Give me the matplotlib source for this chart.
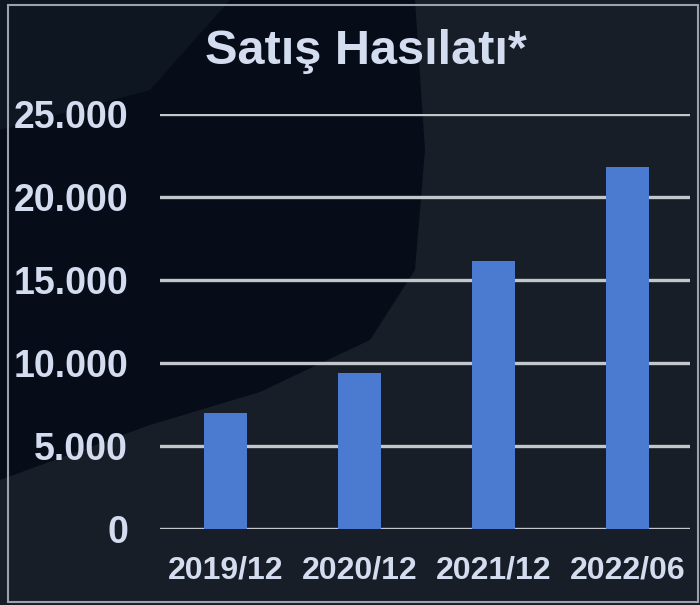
import matplotlib.pyplot as plt
from matplotlib.patches import Rectangle, Polygon
from matplotlib.ticker import FuncFormatter

# ---- data ----
periods = ["2019/12", "2020/12", "2021/12", "2022/06"]
revenue = [7000, 9400, 16150, 21800]
y_ticks = [0, 5000, 10000, 15000, 20000, 25000]

bg = "#060d19"
txt = "#d3ddef"
bar_color = "#4a7bd0"
grid_color = "#c3c7cc"

plt.rcParams["font.family"] = ["Liberation Sans", "DejaVu Sans"]

fig = plt.figure(figsize=(7.0, 6.05), dpi=100, facecolor=bg)

# background decoration, in pixel-like coordinates
bg_ax = fig.add_axes([0, 0, 1, 1], zorder=-10)
bg_ax.set_xlim(0, 700)
bg_ax.set_ylim(605, 0)
bg_ax.axis("off")
bg_ax.add_patch(Polygon([(415, 0), (700, 0), (700, 605), (0, 605), (0, 480), (150, 425),
                         (260, 392), (370, 340), (415, 270), (425, 150)],
                        closed=True, facecolor="#171e27", edgecolor="none"))
bg_ax.add_patch(Polygon([(0, 0), (230, 0), (150, 90), (0, 130)],
                        closed=True, facecolor="#0e1622", edgecolor="none"))
bg_ax.add_patch(Rectangle((8, 5), 690, 597, fill=False, edgecolor="#9aa3ad", linewidth=1.5))

ax = fig.add_axes([160 / 700, 1 - 529 / 605, 530 / 700, 415 / 605])
ax.set_facecolor("none")

x = range(len(periods))
ax.bar(x, revenue, width=0.32, color=bar_color, zorder=3)

ax.set_ylim(0, 25000)
ax.set_xlim(-0.49, 3.465)
ax.set_yticks(y_ticks)
ax.yaxis.set_major_formatter(FuncFormatter(lambda v, p: f"{int(v):,}".replace(",", ".")))
ax.set_xticks(list(x))
ax.set_xticklabels(periods)

for t in y_ticks:
    ax.axhline(t, color=grid_color, linewidth=2.4, zorder=2)

for s in ax.spines.values():
    s.set_visible(False)
ax.tick_params(length=0, colors=txt)
ax.tick_params(axis="y", pad=23, labelsize=27)
ax.tick_params(axis="x", pad=19, labelsize=23)
for lab in ax.get_xticklabels() + ax.get_yticklabels():
    lab.set_fontweight("bold")

fig.text(0.523, 0.915, "Satış Hasılatı*", ha="center", va="center",
         fontsize=35, fontweight="bold", color=txt)

fig.savefig("out.png", dpi=100, facecolor=bg)
